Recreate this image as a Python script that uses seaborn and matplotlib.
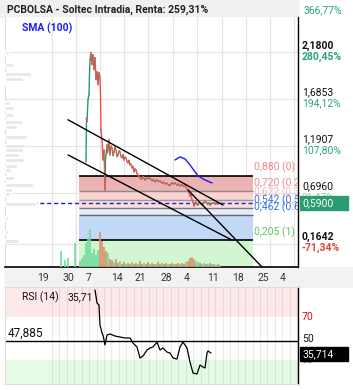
import numpy as np
import pandas as pd
import matplotlib
matplotlib.use("Agg")
import matplotlib.pyplot as plt
import matplotlib.transforms as mtransforms
from matplotlib.patches import Rectangle
import seaborn as sns

# ---------------- data ----------------
title = "PCBOLSA - Soltec Intradia, Renta: 259,31%"
tick_pos = [7.6, 12.6, 16.8, 22.4, 27.0, 32.2, 36.4, 41.6, 46.6, 51.6, 55.6]
tick_labels = ["19", "30", "7", "14", "21", "28", "4", "11", "18", "25", "4"]
grid_x = [9.4, 14.2, 19.0, 23.8, 28.6, 33.6, 38.4, 43.4, 48.2, 53.0, 57.8]

price_x = [16.2, 16.3, 16.4, 16.6, 16.8, 16.9, 17.0, 17.2, 17.3, 17.4, 17.5, 17.6,
           17.8, 17.9, 18.0, 18.2, 18.4, 18.6, 18.8, 19.0, 19.1, 19.2, 19.4, 19.6,
           19.8, 20.0, 20.1, 20.2, 20.4, 20.5, 20.6, 20.8, 21.0, 21.2, 21.4, 21.6,
           21.8, 22.0, 22.2, 22.4, 22.6, 22.8, 23.0, 23.2, 23.4, 23.6, 23.8, 24.0,
           24.2, 24.4, 24.6, 24.8, 25.0, 25.2, 25.4, 25.6, 25.8, 26.0, 26.2, 26.4,
           26.6, 26.8, 27.0, 27.3, 27.6, 28.0, 28.4, 28.7, 29.0, 29.4, 29.7, 30.0,
           30.4, 30.7, 31.0, 31.4, 31.7, 32.0, 32.4, 32.7, 33.0, 33.4, 33.7, 34.0,
           34.4, 34.7, 35.0, 35.4, 35.7, 36.0, 36.3, 36.6, 37.0, 37.2, 37.4, 37.6,
           37.8, 38.0, 38.2, 38.4, 38.6, 38.8, 39.0, 39.3, 39.6, 39.9, 40.2, 40.5,
           40.8, 41.0, 41.3, 41.6, 41.8, 42.1, 42.4, 42.6, 42.9, 43.2]
price_v = [1.023, 1.488, 1.446, 1.678, 1.731, 1.942, 2.100, 2.173, 2.080, 2.048, 2.120, 2.153,
           1.995, 2.060, 2.122, 1.889, 1.974, 1.836, 1.963, 1.910, 1.731, 1.361, 1.256, 1.044,
           1.150, 0.728, 1.044, 1.097, 1.203, 1.120, 1.150, 1.256, 1.097, 1.190, 1.171, 1.090,
           1.129, 1.180, 1.150, 1.080, 1.097, 1.140, 1.129, 1.080, 1.066, 1.100, 1.044, 1.075,
           1.066, 1.030, 1.013, 1.040, 0.992, 1.000, 0.960, 0.975, 0.918, 0.950, 0.939, 0.900,
           0.886, 0.870, 0.854, 0.840, 0.870, 0.833, 0.860, 0.845, 0.854, 0.825, 0.840, 0.812,
           0.835, 0.815, 0.823, 0.800, 0.810, 0.791, 0.800, 0.775, 0.780, 0.805, 0.790, 0.802,
           0.780, 0.790, 0.770, 0.785, 0.765, 0.770, 0.750, 0.728, 0.664, 0.680, 0.622, 0.600,
           0.559, 0.590, 0.601, 0.575, 0.569, 0.600, 0.590, 0.575, 0.580, 0.605, 0.601, 0.580,
           0.590, 0.569, 0.585, 0.595, 0.590, 0.578, 0.592, 0.580, 0.588, 0.590]

sma_x = [34.0, 35.0, 36.0, 37.0, 38.0, 38.6, 40.0, 41.4]
sma_v = [1.044, 1.076, 1.055, 0.992, 0.918, 0.876, 0.833, 0.802]

trend_upper_x = [12.6, 43.6]
trend_upper_v = [1.467, 0.569]
trend_lower_x = [12.6, 45.4]
trend_lower_v = [1.097, 0.200]
trend_steep_x = [36.6, 51.4]
trend_steep_v = [0.728, -0.083]

fib_levels = [0.880, 0.720, 0.622, 0.542, 0.462, 0.205]
fib_labels = ["0,880 (0)", "0,720 (0.236)", "0,622 (0.382)", "0,542 (0.5)",
              "0,462 (0.618)", "0,205 (1)"]
fib_span = [14.8, 49.6]
last_price = 0.59

axis_vals = [2.18, 1.6853, 1.1907, 0.696, 0.1642]
axis_txt = ["2,1800", "1,6853", "1,1907", "0,6960", "0,1642"]
axis_pct = ["280,45%", "194,12%", "107,80%", "21,47%", "-71,34%"]

vol_x = [11.2, 12.0, 12.6, 14.0,
         15.0, 15.4, 15.8, 16.2, 16.6, 17.0, 17.4, 17.8, 18.2, 18.6, 19.0, 19.4,
         19.8, 20.2, 20.6, 21.0, 21.4, 21.8, 22.2, 22.6, 23.0, 23.4, 23.8, 24.2,
         24.6, 25.0, 25.4, 25.8, 26.2, 26.6, 27.0, 27.4, 27.8, 28.2, 28.6, 29.0,
         29.4, 29.8, 30.2, 30.6, 31.0, 31.4, 31.8, 32.2, 32.6, 33.0, 33.4, 33.8,
         34.2, 34.6, 35.0, 35.4, 35.8, 36.2, 36.6, 37.0, 37.4, 37.8, 38.2, 38.6,
         39.0, 39.4, 39.8, 40.2, 40.6, 41.0, 41.4, 41.8, 42.2, 42.6, 43.0]
vol_k = [160, 70, 90, 240,
         60, 90, 120, 240, 290, 380, 140, 180, 120, 170, 350, 260,
         200, 160, 140, 80, 70, 50, 80, 40, 60, 30, 50, 30,
         40, 30, 50, 30, 40, 30, 60, 30, 40, 30, 50, 30,
         40, 30, 30, 50, 30, 40, 30, 40, 30, 30, 40, 30,
         30, 40, 30, 40, 30, 50, 60, 90, 100, 80, 60, 50,
         40, 30, 40, 30, 30, 40, 30, 30, 20, 30, 20]
vol_dir = ["u", "u", "u", "u",
           "u", "u", "u", "u", "u", "u", "u", "u", "u", "u", "d", "d",
           "d", "d", "u", "d", "d", "u", "d", "d", "u", "d", "d", "u",
           "d", "d", "u", "d", "d", "u", "d", "d", "u", "d", "d", "u",
           "d", "d", "u", "d", "d", "u", "d", "d", "u", "d", "d", "u",
           "d", "d", "u", "d", "d", "u", "d", "d", "d", "d", "u", "u",
           "d", "u", "u", "d", "u", "d", "u", "d", "u", "d", "u"]

prof_v = [2.169, 2.048, 1.953, 1.900, 1.858, 1.646, 1.594, 1.520, 1.446, 1.393,
          1.287, 1.192, 1.150, 1.097, 1.044, 0.981, 0.939, 0.854, 0.780, 0.728,
          0.685, 0.580, 0.432, 0.284, 0.189]
prof_w = [3, 8, 26, 18, 2, 5, 9, 8, 17, 12,
          22, 20, 18, 14, 19, 12, 6, 9, 28, 7,
          5, 31, 3, 3, 14]

rsi_x = [18.0, 18.4, 18.8, 19.0, 19.4, 19.6, 20.0, 20.4, 21.0, 22.0, 23.0, 24.0,
         25.0, 25.6, 26.4, 27.0, 27.6, 28.4, 29.0, 29.6, 30.4, 31.0, 31.6, 32.4,
         33.0, 33.6, 34.4, 35.0, 35.6, 36.4, 37.0, 37.6, 38.4, 39.0, 39.6, 40.0,
         40.4, 40.6, 41.2]
rsi_v = [95.1, 83.0, 81.2, 62.6, 55.1, 53.3, 44.0, 53.3, 54.2, 52.3, 51.4, 50.5,
         50.5, 45.8, 42.1, 31.9, 33.7, 39.3, 41.2, 42.1, 46.7, 39.3, 41.2, 37.4,
         36.5, 31.9, 30.9, 42.1, 46.7, 41.2, 28.1, 17.9, 17.0, 25.3, 23.5, 22.6,
         36.5, 38.4, 36.5]
rsi_ref = 47.885
rsi_last = 35.714

# ---------------- style ----------------
sns.set_theme(style="white")
plt.rcParams["font.family"] = ["Roboto", "DejaVu Sans"]
plt.rcParams["font.size"] = 7.5

W, H = 353, 390
fig = plt.figure(figsize=(W / 100, H / 100), dpi=100)
fig.patch.set_facecolor("white")

def fx(p):
    return p / W

def fy(p):
    return 1 - p / H

# background bands (behind everything)
fig.patches.append(Rectangle((0, fy(17)), fx(298), 17 / H, transform=fig.transFigure,
                             color="#f0f0f0", zorder=-10))
fig.patches.append(Rectangle((fx(5), fy(287)), fx(348), 20 / H, transform=fig.transFigure,
                             color="#f2f2f2", zorder=-10))

ax = fig.add_axes([fx(5), fy(267), fx(293), 250 / H])
rs = fig.add_axes([fx(5), fy(384), fx(293), 97 / H])

XMAX = 58.6
YLO, YHI = -0.083, 2.549
ax.set_facecolor("white")

# volume profile (left) and volume bars on twin axes, drawn first
axp = ax.twiny()
axv = ax.twinx()

# price line colored by direction
rows = []
for i in range(len(price_x) - 1):
    d = "up" if price_v[i + 1] >= price_v[i] else "down"
    rows.append((i, price_x[i], price_v[i], d))
    rows.append((i, price_x[i + 1], price_v[i + 1], d))
pdf = pd.DataFrame(rows, columns=["seg", "x", "v", "dir"])
sns.lineplot(data=pdf, x="x", y="v", hue="dir", units="seg", estimator=None, sort=False,
             palette={"up": "#1f9d6c", "down": "#f0504c"}, lw=1.0, legend=False, ax=ax,
             zorder=6)

# SMA
sns.lineplot(x=sma_x, y=sma_v, color="#1a1aff", lw=1.0, ax=ax, zorder=6)

# trend lines
for tx, tv in [(trend_upper_x, trend_upper_v), (trend_lower_x, trend_lower_v),
               (trend_steep_x, trend_steep_v)]:
    sns.lineplot(x=tx, y=tv, color="black", lw=1.0, ax=ax, zorder=7)

ax.set_xlabel("")
ax.set_ylabel("")
ax.set_xlim(0, XMAX)
ax.set_ylim(YLO, YHI)

# grid
ax.set_axisbelow(True)
ax.set_yticks(axis_vals)
ax.set_yticklabels([])
ax.set_xticks(tick_pos)
ax.set_xticklabels(tick_labels, color="#333333", fontsize=7.5)
ax.set_xticks(grid_x, minor=True)
ax.tick_params(axis="both", which="both", length=0)
ax.tick_params(axis="x", pad=4)
ax.grid(False)
ax.grid(True, which="minor", axis="x", color="#e4e4e4", lw=0.8)
ax.grid(True, which="major", axis="y", color="#e4e4e4", lw=0.8)

ax.spines["top"].set_visible(False)
ax.spines["left"].set_color("#dddddd")
ax.spines["left"].set_linewidth(0.8)
ax.spines["bottom"].set_color("black")
ax.spines["bottom"].set_linewidth(1.2)
ax.spines["right"].set_color("black")
ax.spines["right"].set_linewidth(1.0)

# fib zones
zone_colors = ["#ebb3b3", "#f9d2d2", "#fbdede", "#e3ecf9", "#c2d8f7"]
for i in range(len(fib_levels) - 1):
    ax.fill_between(fib_span, fib_levels[i + 1], fib_levels[i], color=zone_colors[i],
                    lw=0, zorder=1)
ax.fill_between(fib_span, YLO, fib_levels[-1], color="#d2f5d2", lw=0, zorder=1)
fib_line_colors = ["black", "#8a8a8a", "#9a9a9a", "#7a7a7a", "#666666", "black"]
fib_line_w = [1.2, 1.0, 1.0, 1.0, 1.0, 1.2]
for lv, c, w in zip(fib_levels, fib_line_colors, fib_line_w):
    ax.hlines(lv, fib_span[0], fib_span[1], colors=c, lw=w, zorder=2)

fib_text_colors = ["#e98a8a", "#e98a8a", "#f3b7b7", "#3c6fe0", "#3c6fe0", "#5cc85c"]
off_up = mtransforms.offset_copy(ax.transData, fig=fig, x=0, y=1.5, units="points")
for lv, t, c in zip(fib_levels, fib_labels, fib_text_colors):
    ax.text(fib_span[1] + 0.1, lv, t, color=c, fontsize=7.5, va="bottom", ha="left",
            transform=off_up, clip_on=True, zorder=3)

# last price dashed line
ax.hlines(last_price, 0, fib_span[1], colors="#2222c8", lw=1.0, linestyles=(0, (3, 2)),
          zorder=3)

axp.set_xlim(0, 293)
axp.barh(prof_v, prof_w, height=0.042, left=0, color="#e6e6e6", zorder=1)
axp.axis("off")
axp.set_ylim(YLO, YHI)

axv.set_ylim(0, 2500)
vol_colors = {"u": "#74dc9c", "d": "#dc9068"}
axv.bar(vol_x, vol_k, width=0.28, color=[vol_colors[d] for d in vol_dir], lw=0, alpha=0.85)
axv.axis("off")
axv.set_xlim(0, XMAX)

# right axis labels
bt = mtransforms.blended_transform_factory(ax.transAxes, ax.transData)
up2 = mtransforms.offset_copy(bt, fig=fig, x=0, y=1.0, units="points")
dn2 = mtransforms.offset_copy(bt, fig=fig, x=0, y=0.3, units="points")
xl = (302 - 5) / 293
for i, (v, t, p) in enumerate(zip(axis_vals, axis_txt, axis_pct)):
    bold = i in (0, len(axis_vals) - 1)
    ax.text(xl, v, t, transform=up2, va="bottom", ha="left", fontsize=7.5,
            color="#111111", fontweight="bold" if bold else "normal", clip_on=False)
    pc = "#e8403a" if p.startswith("-") else "#2aa57a"
    alpha = 0.55 if i == 3 else 1.0
    ax.text(xl, v, p, transform=dn2, va="top", ha="left", fontsize=7.5, color=pc,
            alpha=alpha, fontweight="bold" if bold else "normal", clip_on=False)

# last price box
bx0 = (300 - 5) / 293
bw = 48 / 293
bh = 14 / 94.7
ax.add_patch(Rectangle((bx0, last_price - bh / 2), bw, bh, transform=bt, clip_on=False,
                       color="#2a9d6f", zorder=10))
ax.text(bx0 + 2 / 293, last_price, "0,5900", transform=bt, color="white", va="center",
        ha="left", fontsize=7.5, clip_on=False, zorder=11)

# header texts
fig.text(fx(7), fy(9.5), title, fontsize=7.5, fontweight="bold", color="#222222",
         va="center", ha="left")
fig.text(fx(303), fy(10), "366,77%", fontsize=7.5, color="#2aa57a", va="center", ha="left")
fig.text(fx(22), fy(28), "SMA (100)", fontsize=7.5, fontweight="bold", color="#1a1aff",
         va="center", ha="left")

# ---------------- RSI panel ----------------
rs.set_facecolor("white")
rs.axhspan(70, 97.9, color="#fde9e9", lw=0, zorder=0)
rs.axhspan(7.7, 30, color="#e6fbe6", lw=0, zorder=0)
rsi_grid = np.arange(9.4, XMAX, 1.486)
rs.vlines(rsi_grid, 7.7, 97.9, colors="black", alpha=0.08, lw=0.8, zorder=1)
rs.axhline(rsi_ref, color="black", lw=1.0, zorder=2)
sns.lineplot(x=rsi_x, y=rsi_v, color="black", lw=0.9, ax=rs, zorder=3)
rs.set_xlim(0, XMAX)
rs.set_ylim(7.7, 97.9)
rs.set_xticks([])
rs.set_yticks([])
rs.set_xlabel("")
rs.set_ylabel("")
for s in ["top", "left", "bottom"]:
    rs.spines[s].set_color("#dddddd")
    rs.spines[s].set_linewidth(0.8)
rs.spines["right"].set_color("black")
rs.spines["right"].set_linewidth(1.0)

rbt = mtransforms.blended_transform_factory(rs.transAxes, rs.transData)
rs.text(xl, 70, "70", transform=rbt, color="#e01010", fontsize=7.5, va="center", clip_on=False)
rs.text(xl, 50, "50", transform=rbt, color="#111111", fontsize=7.5, va="center", clip_on=False)
rs.text(xl, 30, "30", transform=rbt, color="#22a022", fontsize=7.5, va="center", clip_on=False)
rbh = 14 / 1.075
rs.add_patch(Rectangle((bx0, rsi_last - rbh / 2), bw, rbh, transform=rbt, clip_on=False,
                       color="black", zorder=10))
rs.text(bx0 + 2 / 293, rsi_last, "35,714", transform=rbt, color="white", va="center",
        ha="left", fontsize=7.5, clip_on=False, zorder=11)
roff = mtransforms.offset_copy(rbt, fig=fig, x=0, y=1.0, units="points")
rs.text(3 / 293, rsi_ref, "47,885", transform=roff, color="#111111", fontsize=8.5,
        va="bottom", ha="left")
fig.text(fx(22), fy(297), "RSI (14)", fontsize=7.5, color="#111111", va="center", ha="left")
fig.text(fx(68), fy(297), "35,71", fontsize=7.5, color="#111111", va="center", ha="left")

fig.savefig("out.png", dpi=100)
